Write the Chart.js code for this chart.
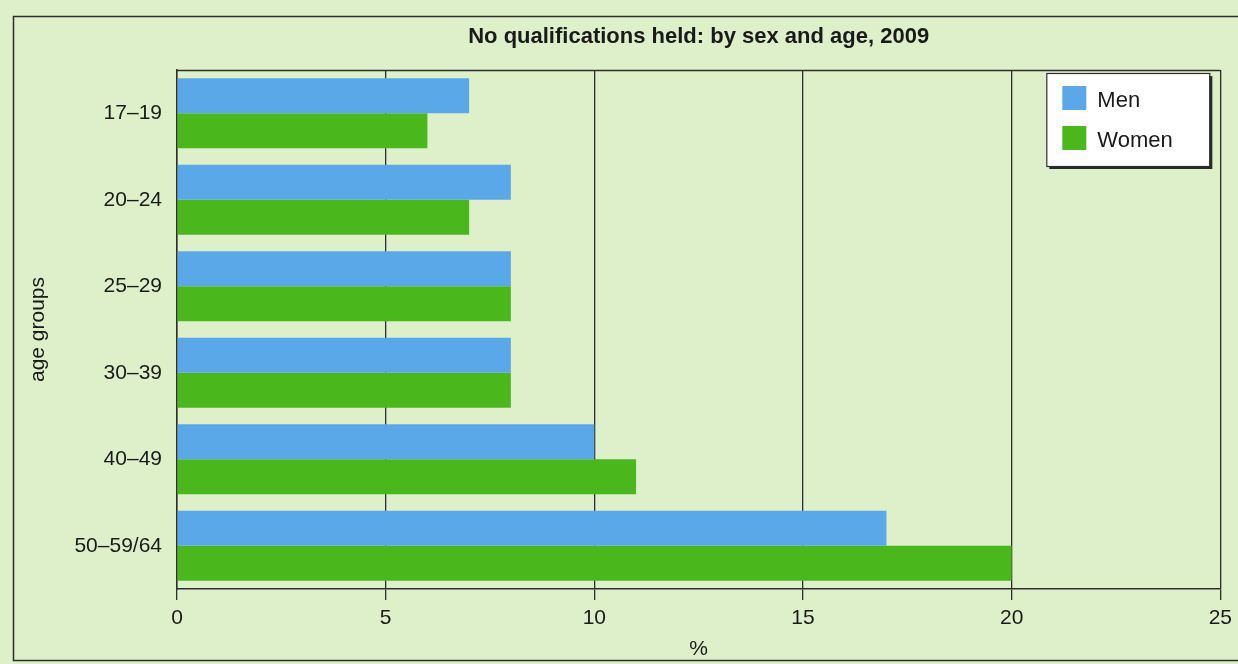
<!DOCTYPE html>
<html>
<head>
<meta charset="utf-8">
<script src="https://cdn.jsdelivr.net/npm/chart.js@4/dist/chart.umd.min.js"></script>
<style>
  html, body { margin: 0; padding: 0; background: #ddf0ca; }
  canvas { display: block; }
</style>
</head>
<body>
<canvas id="c" width="1238" height="664"></canvas>
<script>
const titleText = 'No qualifications held: by sex and age, 2009';
const categories = ['17–19', '20–24', '25–29', '30–39', '40–49', '50–59/64'];
const seriesNames = ['Men', 'Women'];
const men = [7, 8, 8, 8, 10, 17];
const women = [6, 7, 8, 8, 11, 20];
const xMin = 0, xMax = 25, xStep = 5;
const yAxisTitle = 'age groups';
const xAxisTitle = '%';

const BG = '#ddf0ca';
const INK = '#1a1a1a';
const LINE = '#2e2e2e';
const FONT = "'Liberation Sans', Arial, Helvetica, sans-serif";

const framePlugin = {
  id: 'frame',
  beforeDraw(chart) {
    const ctx = chart.ctx;
    ctx.save();
    ctx.fillStyle = BG;
    ctx.fillRect(0, 0, chart.width, chart.height);
    ctx.strokeStyle = LINE;
    ctx.lineWidth = 1.5;
    ctx.strokeRect(13.5, 16.5, chart.width + 10, 644);
    const a = chart.chartArea;
    ctx.fillStyle = INK;
    ctx.font = 'bold 22px ' + FONT;
    ctx.textAlign = 'center';
    ctx.textBaseline = 'middle';
    ctx.fillText(titleText, (a.left + a.right) / 2, 37);
    ctx.restore();
  },
  afterDraw(chart) {
    const ctx = chart.ctx;
    const a = chart.chartArea;
    ctx.save();
    ctx.strokeStyle = LINE;
    ctx.lineWidth = 1.5;
    ctx.beginPath();
    ctx.moveTo(a.left, a.top + 0.5);
    ctx.lineTo(a.right, a.top + 0.5);
    ctx.stroke();
    const bw = 163, bh = 93;
    const bx = a.right - 11 - bw, by = a.top + 3;
    ctx.fillStyle = '#2a2a2a';
    ctx.fillRect(bx + 3, by + 3, bw, bh);
    ctx.fillStyle = '#ffffff';
    ctx.fillRect(bx, by, bw, bh);
    ctx.strokeStyle = LINE;
    ctx.lineWidth = 1.2;
    ctx.strokeRect(bx + 0.5, by + 0.5, bw, bh);
    ctx.font = '22px ' + FONT;
    ctx.textAlign = 'left';
    ctx.textBaseline = 'middle';
    chart.data.datasets.forEach((ds, i) => {
      const sy = by + 13 + i * 40;
      ctx.fillStyle = ds.backgroundColor;
      ctx.fillRect(bx + 16, sy, 24, 24);
      ctx.fillStyle = INK;
      ctx.fillText(ds.label, bx + 51, sy + 15);
    });
    ctx.restore();
  }
};

new Chart(document.getElementById('c'), {
  type: 'bar',
  data: {
    labels: categories,
    datasets: [
      { label: seriesNames[0], data: men, backgroundColor: '#5aa8e8' },
      { label: seriesNames[1], data: women, backgroundColor: '#4ab81c' }
    ]
  },
  options: {
    indexAxis: 'y',
    responsive: false,
    animation: false,
    devicePixelRatio: 1,
    layout: { padding: { top: 70, right: 16, left: 0, bottom: 0 } },
    datasets: { bar: { categoryPercentage: 0.81, barPercentage: 1.0 } },
    plugins: {
      legend: { display: false },
      title: { display: false },
      tooltip: { enabled: false }
    },
    scales: {
      x: {
        min: xMin, max: xMax,
        ticks: { stepSize: xStep, color: INK, font: { size: 21, family: FONT }, padding: 6 },
        grid: { color: LINE, lineWidth: 1.3, tickLength: 11, drawTicks: true },
        border: { color: LINE, width: 1.5 },
        title: { display: true, text: xAxisTitle, color: INK, font: { size: 21, family: FONT }, padding: { top: 0, bottom: 2 } },
        afterFit(s) { s.height = 75; }
      },
      y: {
        ticks: { color: INK, font: { size: 21, family: FONT }, padding: 15 },
        grid: { drawOnChartArea: false, drawTicks: false },
        border: { color: LINE, width: 1.5 },
        title: { display: true, text: yAxisTitle, color: INK, font: { size: 21, family: FONT }, padding: { top: 26, bottom: 0 } },
        afterFit(s) { s.width = 177; }
      }
    }
  },
  plugins: [framePlugin]
});
</script>
</body>
</html>
